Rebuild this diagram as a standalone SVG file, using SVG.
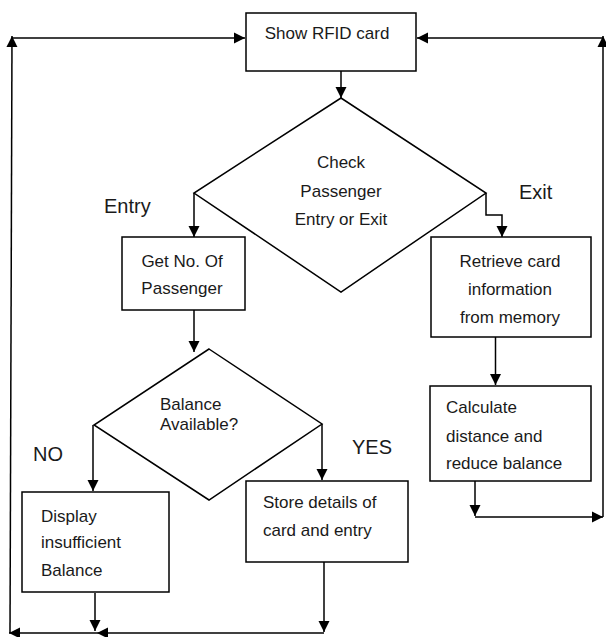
<svg xmlns="http://www.w3.org/2000/svg" width="606" height="637" viewBox="0 0 606 637">
<style>
.s{fill:#fff;stroke:#000;stroke-width:1.5}
.c{fill:none;stroke:#000;stroke-width:1.5}
text{font-family:"Liberation Sans",Arial,sans-serif;font-size:17px;fill:#1a1a1a}
.m{text-anchor:middle}
.l{font-size:20px}
</style>
<defs>
<marker id="a" markerUnits="userSpaceOnUse" markerWidth="12" markerHeight="12" refX="11" refY="6" orient="auto">
<path d="M0,0.5 L11,6 L0,11.5 z" fill="#000"/>
</marker>
</defs>
<rect width="606" height="637" fill="#fff"/>
<g id="connectors">
<path class="c" d="M341,71 V98" marker-end="url(#a)"/>
<path class="c" d="M194,193 V237" marker-end="url(#a)"/>
<path class="c" d="M486,193 V215 H502 V237" marker-end="url(#a)"/>
<path class="c" d="M495.5,337 V385" marker-end="url(#a)"/>
<path class="c" d="M475,481 V516" marker-end="url(#a)"/>
<path class="c" d="M475,517 H603" marker-end="url(#a)"/>
<path class="c" d="M603,517 V36" marker-end="url(#a)"/>
<path class="c" d="M603,38 H417" marker-end="url(#a)"/>
<path class="c" d="M194,310 V352" marker-end="url(#a)"/>
<path class="c" d="M93,425 V491" marker-end="url(#a)"/>
<path class="c" d="M322,424 V480" marker-end="url(#a)"/>
<path class="c" d="M95,593 V631" marker-end="url(#a)"/>
<path class="c" d="M324,562 V632" marker-end="url(#a)"/>
<path class="c" d="M324,633 H97" marker-end="url(#a)"/>
<path class="c" d="M97,633 H9" marker-end="url(#a)"/>
<path class="c" d="M10,633 L12,36" marker-end="url(#a)"/>
<path class="c" d="M12,38 H245" marker-end="url(#a)"/>
</g>
<g id="show">
<rect class="s" x="246" y="13" width="170" height="58"/>
<text class="m" x="327" y="39">Show RFID card</text>
</g>
<g id="check">
<polygon class="s" points="341,98 486,193 341,292 194,193"/>
<text class="m" x="341" y="168">Check</text>
<text class="m" x="341" y="197">Passenger</text>
<text class="m" x="341" y="225">Entry or Exit</text>
</g>
<g id="entry-label"><text class="l" x="104" y="213">Entry</text></g>
<g id="exit-label"><text class="l" x="519" y="199">Exit</text></g>
<g id="getno">
<rect class="s" x="122" y="237" width="123" height="73"/>
<text class="m" x="182" y="267">Get No. Of</text>
<text class="m" x="182" y="294">Passenger</text>
</g>
<g id="retrieve">
<rect class="s" x="431" y="237" width="160" height="100"/>
<text class="m" x="510" y="267">Retrieve card</text>
<text class="m" x="510" y="295">information</text>
<text class="m" x="510" y="323">from memory</text>
</g>
<g id="calculate">
<rect class="s" x="430" y="386" width="161" height="95"/>
<text x="446" y="413">Calculate</text>
<text x="446" y="442">distance and</text>
<text x="446" y="469">reduce balance</text>
</g>
<g id="balance">
<polygon class="s" points="209,349 322,424 209,500 94,425"/>
<text x="160" y="410">Balance</text>
<text x="160" y="430">Available?</text>
</g>
<g id="no-label"><text class="l" x="33" y="461">NO</text></g>
<g id="yes-label"><text class="l" x="352" y="454">YES</text></g>
<g id="display">
<rect class="s" x="22" y="492" width="147" height="100"/>
<text x="41" y="522">Display</text>
<text x="41" y="548">insufficient</text>
<text x="41" y="576">Balance</text>
</g>
<g id="store">
<rect class="s" x="246" y="481" width="162" height="81"/>
<text x="263" y="508">Store details of</text>
<text x="263" y="536">card and entry</text>
</g>
</svg>
